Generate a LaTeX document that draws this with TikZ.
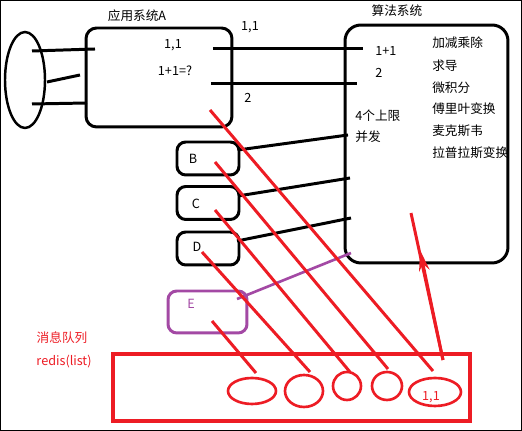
\documentclass[tikz,border=0pt]{standalone}
\usepackage{fontspec}
\setmainfont{Noto Sans CJK SC}
\usepackage{tikz}
\usetikzlibrary{shapes.geometric,arrows.meta}

\definecolor{pred}{RGB}{237,28,36}
\definecolor{ppurple}{RGB}{163,73,164}

\tikzset{
    box/.style={draw,line width=1.7pt,rounded corners=6pt,inner sep=0pt},
    wire/.style={line width=1.7pt},
    redwire/.style={pred,line width=1.7pt},
    msg/.style={draw=pred,ellipse,line width=1.5pt,inner sep=0pt},
    lbl/.style={inner sep=0pt,font=\fontsize{7.2}{8}\selectfont}
}

\begin{document}
\begin{tikzpicture}[x=0.02cm,y=-0.02cm]
            \useasboundingbox (0,0) rectangle (522,431);
            \draw[line width=1pt] (0.5,0.5) rectangle (521.5,430.5);

            % users and system A
            \node[draw,ellipse,line width=1.4pt,minimum width=0.8cm,minimum height=1.92cm,inner sep=0pt] (user) at (25,80) {};
            \node[box,minimum width=2.92cm,minimum height=1.98cm] (A) at (159,77.5) {};
            \node[lbl] (Atitle) at (137,16) {应用系统A};
            \node[lbl] (Ain) at (173,45) {1,1};
            \node[lbl] (Aq) at (175,71) {1+1=?};
            \node[lbl] (send) at (250,27) {1,1};
            \node[lbl] (back) at (248,98) {2};

            % algorithm system
            \node[box,rounded corners=9pt,minimum width=3.26cm,minimum height=4.76cm] (alg) at (426.5,144) {};
            \node[lbl] (algtitle) at (397,11) {算法系统};
            \node[lbl,anchor=west] (calc) at (375,51) {1+1};
            \node[lbl,anchor=west] (res) at (375,73) {2};
            \node[lbl,anchor=west] (limit) at (355,116) {4个上限};
            \node[lbl,anchor=west] (conc) at (355,137) {并发};
            \foreach \t/\y [count=\i] in {加减乘除/43,求导/66,微积分/88,傅里叶变换/109,麦克斯韦/131,拉普拉斯变换/153} {
                \node[lbl,anchor=west] (op\i) at (432,\y) {\t};
            }

            % B, C, D and E
            \foreach \n/\y/\lx/\ly in {B/158.5/193/159,C/203/196/204,D/248.5/197/247} {
                \node[box,rounded corners=5pt,minimum width=1.24cm,minimum height=0.66cm] (\n) at (208,\y) {};
                \node[lbl] (\n lbl) at (\lx,\ly) {\n};
            }
            \node[box,draw=ppurple,rounded corners=5pt,minimum width=1.58cm,minimum height=0.84cm] (E) at (207.5,312) {};
            \node[lbl,ppurple] (Elbl) at (191,304) {E};

            % message queue
            \node[lbl,pred] (mq) at (62,338) {消息队列};
            \node[lbl,pred] (redis) at (64,362) {redis(list)};
            \node[draw=pred,line width=1.8pt,minimum width=7.14cm,minimum height=1.34cm,inner sep=0pt] (queue) at (291.5,387.5) {};
            \foreach \x/\y/\w/\h [count=\i] in {252/391/0.96/0.52,304/391/0.76/0.64,347/386/0.56/0.56,387/386/0.6/0.56,435/392/1.04/0.56} {
                \node[msg,minimum width=\w cm,minimum height=\h cm] (m\i) at (\x,\y) {};
            }
            \node[lbl,pred] (m5lbl) at (431,397) {1,1};

            % connector ends
            \foreach \n/\x/\y in {u1/32/51,a1/95/49,u2/47/82,a2/80/75,u3/32/104,a3/87/103,
                    ao1/213/49,s1/363/49,ao2/211/84,s2/357/84,
                    bo/238/150,sb/348/135,co/238/196,sc/350/178,do/237/241,sd/351/218,
                    eo/237/299,se/351/253,
                    re/212/321,qe/256/373,rd/202/252,qd/310/372,rc/215/210,qc/350/372,
                    rb/215/162,qb/388/369,ra/210/110,qa/433/371,
                    qo/443/360,tip/420/250,top/411/213} {
                \coordinate (\n) at (\x,\y);
            }

            \foreach \a/\b in {u1/a1,u2/a2,u3/a3,ao1/s1,ao2/s2,bo/sb,co/sc,do/sd} {
                \draw[wire] (\a) -- (\b);
            }
            \draw[wire,ppurple,line width=1.5pt] (eo) -- (se);
            \foreach \a/\b in {re/qe,rd/qd,rc/qc,rb/qb,ra/qa} {
                \draw[redwire] (\a) -- (\b);
            }
            \draw[redwire] (qo) -- (top);
            \draw[redwire,-{Stealth[length=12pt,width=6pt,inset=4pt]}] (qo) -- (tip);
        \end{tikzpicture}
\end{document}
